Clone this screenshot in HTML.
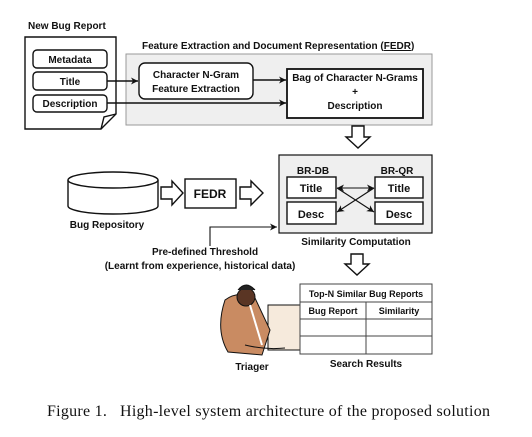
<!DOCTYPE html>
<html><head><style>
body{margin:0;width:532px;height:432px;background:#fff;overflow:hidden}
svg text{font-family:"Liberation Sans",sans-serif;font-weight:bold;font-size:10px;fill:#111}
</style></head><body>
<svg width="532" height="432" viewBox="0 0 532 432">
<defs><marker id="a" markerWidth="8" markerHeight="8" refX="7" refY="4" orient="auto-start-reverse" markerUnits="userSpaceOnUse"><path d="M0,0.5 L7,4 L0,7.5 L2,4z" fill="#111"/></marker></defs>
<g stroke="#111" fill="none" stroke-width="1.4">
<text x="28" y="29" stroke="none">New Bug Report</text>
<path d="M25,37 H116 V114 L101,129 H25 Z" fill="#fff"/>
<path d="M101,129 L104,117 L116,114" />
<rect x="33" y="50" width="74" height="18" rx="4" fill="#fff"/>
<rect x="33" y="72" width="74" height="18" rx="4" fill="#fff"/>
<rect x="33" y="95" width="74" height="17" rx="4" fill="#fff"/>
<text x="70" y="63" text-anchor="middle" stroke="none">Metadata</text>
<text x="70" y="85" text-anchor="middle" stroke="none">Title</text>
<text x="70" y="107" text-anchor="middle" stroke="none">Description</text>
<text x="142" y="49" stroke="none">Feature Extraction and Document Representation (<tspan text-decoration="underline">FEDR</tspan>)</text>
<rect x="126" y="54" width="306" height="71" fill="#efefef" stroke="#999" stroke-width="1"/>
<rect x="139" y="63" width="114" height="36" rx="6" fill="#fff"/>
<text x="196" y="78" text-anchor="middle" stroke="none">Character N-Gram</text>
<text x="196" y="92" text-anchor="middle" stroke="none">Feature Extraction</text>
<rect x="287" y="69" width="136" height="49" fill="#fff" stroke-width="1.8"/>
<text x="355" y="81" text-anchor="middle" stroke="none">Bag of Character N-Grams</text>
<text x="355" y="95" text-anchor="middle" stroke="none">+</text>
<text x="355" y="109" text-anchor="middle" stroke="none">Description</text>
<line x1="107" y1="81" x2="138" y2="81" marker-end="url(#a)"/>
<line x1="253" y1="80" x2="286" y2="80" marker-end="url(#a)"/>
<line x1="107" y1="103" x2="286" y2="103" marker-end="url(#a)"/>
<path d="M352,126 H364 V137 H370 L358,148 L346,137 H352 Z" fill="#fff"/>
<rect x="279" y="155" width="153" height="78" fill="#efefef" stroke-width="1.2"/>
<text x="313" y="174" text-anchor="middle" stroke="none">BR-DB</text>
<text x="397" y="174" text-anchor="middle" stroke="none">BR-QR</text>
<rect x="287" y="177" width="49" height="21" fill="#fff"/>
<rect x="375" y="177" width="48" height="21" fill="#fff"/>
<rect x="287" y="202" width="49" height="22" fill="#fff"/>
<rect x="375" y="202" width="48" height="22" fill="#fff"/>
<text x="311" y="192" text-anchor="middle" stroke="none" style="font-size:11px">Title</text>
<text x="399" y="192" text-anchor="middle" stroke="none" style="font-size:11px">Title</text>
<text x="311" y="218" text-anchor="middle" stroke="none" style="font-size:11px">Desc</text>
<text x="399" y="218" text-anchor="middle" stroke="none" style="font-size:11px">Desc</text>
<line x1="337" y1="188" x2="374" y2="188" stroke-width="1.1" marker-start="url(#a)" marker-end="url(#a)"/>
<line x1="337" y1="188" x2="374" y2="212" stroke-width="1.1" marker-end="url(#a)"/>
<line x1="374" y1="188" x2="337" y2="212" stroke-width="1.1" marker-end="url(#a)"/>
<text x="356" y="245" text-anchor="middle" stroke="none">Similarity Computation</text>
<path d="M351,254 H363 V264 H369 L357,275 L345,264 H351 Z" fill="#fff"/>
<path d="M68,180 V206 A45,8 0 0 0 158,206 V180" fill="#fff"/>
<ellipse cx="113" cy="180" rx="45" ry="8" fill="#fff"/>
<text x="107" y="228" text-anchor="middle" stroke="none">Bug Repository</text>
<path d="M161,187 H172 V181 L183,193 L172,205 V199 H161 Z" fill="#fff"/>
<rect x="185" y="179" width="51" height="29" fill="#fff"/>
<text x="210" y="198" text-anchor="middle" stroke="none" style="font-size:12px">FEDR</text>
<path d="M240,187 H251 V181 L263,193 L251,205 V199 H240 Z" fill="#fff"/>
<path d="M210,246 V227 H277" marker-end="url(#a)" stroke-width="1.1"/>
<text x="205" y="255" text-anchor="middle" stroke="none">Pre-defined Threshold</text>
<text x="200" y="269" text-anchor="middle" stroke="none">(Learnt from experience, historical data)</text>
<g stroke-width="1">
<rect x="268" y="305" width="32" height="45" fill="#f6eadc"/>
<path d="M225,300 Q238,290 255,298 L270,330 L262,355 L228,352 Q215,330 225,300Z" fill="#c98b62"/>
<circle cx="246" cy="297" r="9" fill="#5a3524"/>
<path d="M238,290 Q246,280 255,290" fill="#222"/>
<path d="M250,305 L262,345" stroke="#fff" stroke-width="2"/>
<path d="M245,345 Q265,350 285,348" fill="none"/>
</g>
<text x="252" y="370" text-anchor="middle" stroke="none">Triager</text>
<g stroke="#444" stroke-width="1">
<rect x="300" y="284" width="132" height="70" fill="#fff"/>
<line x1="300" y1="302" x2="432" y2="302"/>
<line x1="300" y1="319" x2="432" y2="319"/>
<line x1="300" y1="336" x2="432" y2="336"/>
<line x1="366" y1="302" x2="366" y2="354"/>
</g>
<text x="366" y="297" text-anchor="middle" stroke="none" style="font-size:9px">Top-N Similar Bug Reports</text>
<text x="333" y="314" text-anchor="middle" stroke="none" style="font-size:9px">Bug Report</text>
<text x="399" y="314" text-anchor="middle" stroke="none" style="font-size:9px">Similarity</text>
<text x="366" y="367" text-anchor="middle" stroke="none">Search Results</text>
</g>
<text x="47" y="416" textLength="443" lengthAdjust="spacing" style="font-family:'Liberation Serif',serif;font-weight:normal;font-size:16px" xml:space="preserve">Figure 1.   High-level system architecture of the proposed solution</text>
</svg>
</body></html>
